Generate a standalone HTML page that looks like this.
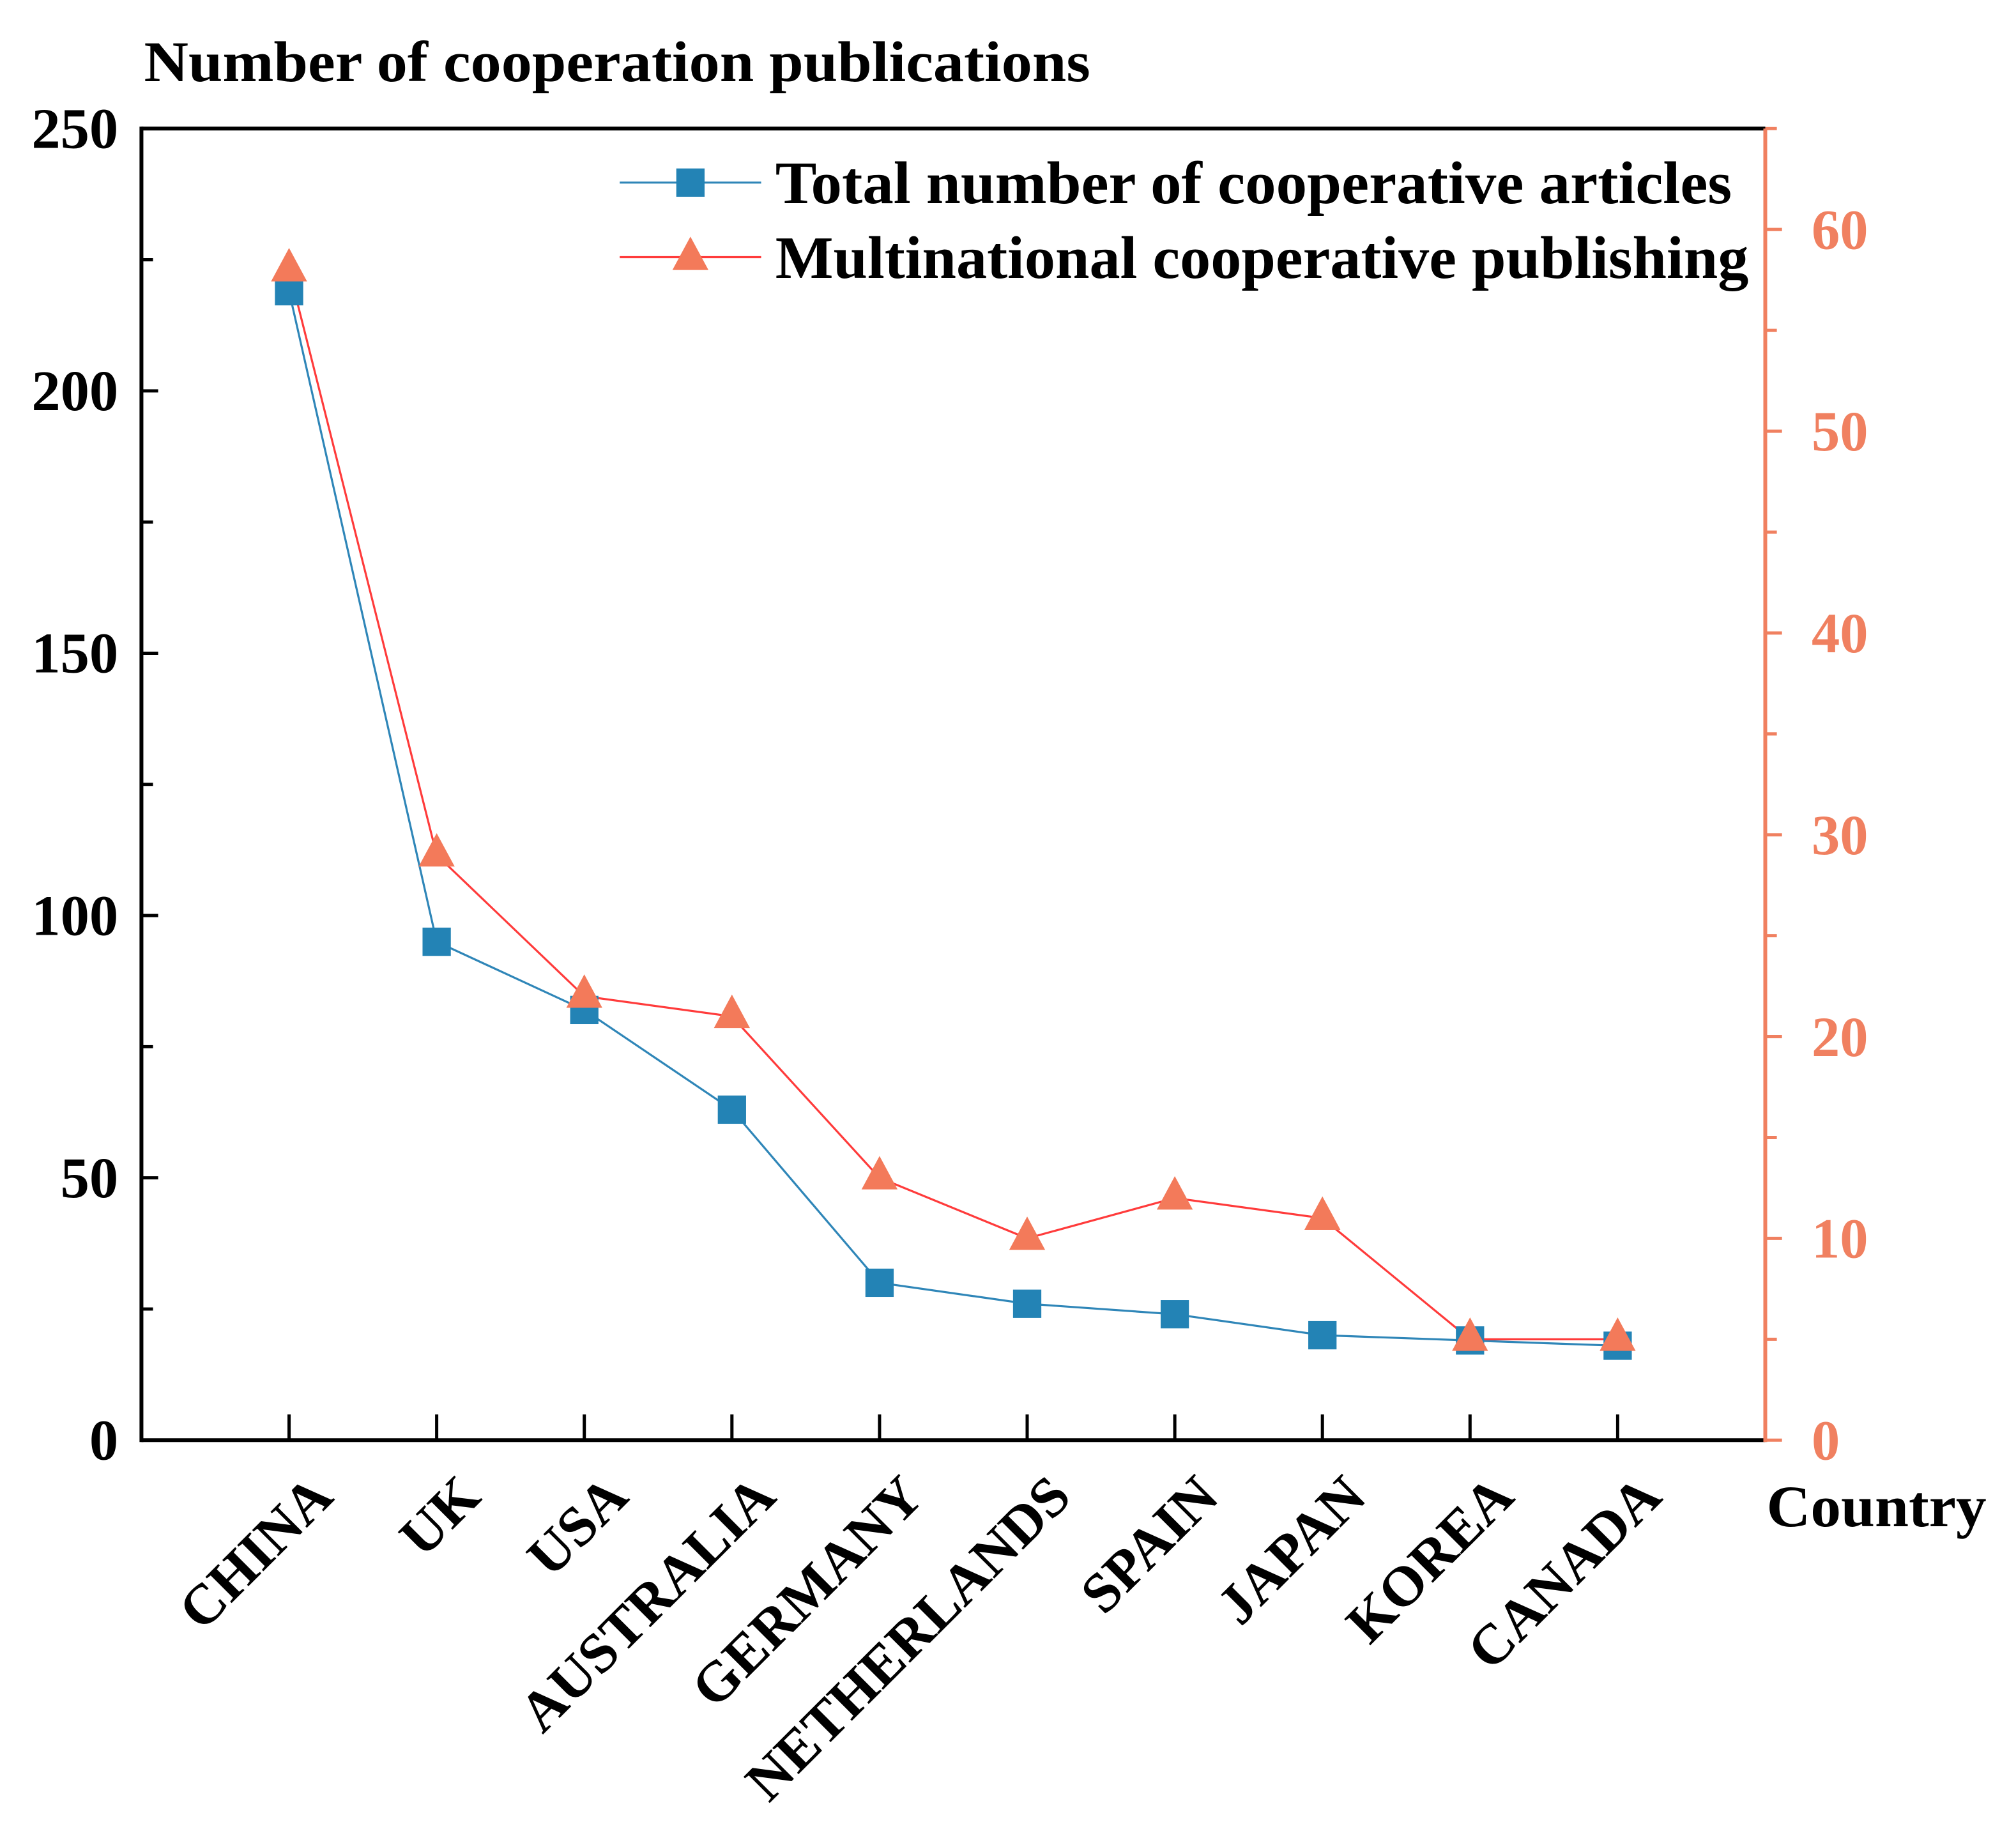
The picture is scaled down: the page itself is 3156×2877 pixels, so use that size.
<!DOCTYPE html>
<html><head><meta charset="utf-8"><style>
html,body{margin:0;padding:0;background:#fff;}
svg{display:block;}
text{font-family:"Liberation Serif",serif;font-weight:bold;}
</style></head><body>
<svg id="chart" width="3156" height="2877" viewBox="0 0 1568 1429.4" xmlns="http://www.w3.org/2000/svg">
<text x="112" y="63" font-size="45" textLength="736" lengthAdjust="spacingAndGlyphs">Number of cooperation publications</text>
<text x="1374" y="1187" font-size="46" textLength="171" lengthAdjust="spacingAndGlyphs">Country</text>
<g id="axes"></g>
<g id="series"></g>
<g>
  <line x1="482" y1="142" x2="592" y2="142" stroke="#2f86b8" stroke-width="1.6"/>
  <rect x="526" y="131" width="22" height="22" fill="#2383b5"/>
  <text x="603" y="158" font-size="47" textLength="744" lengthAdjust="spacingAndGlyphs">Total number of cooperative articles</text>
  <line x1="482" y1="200" x2="592" y2="200" stroke="#ff3b3b" stroke-width="1.6"/>
  <polygon points="537,184 523,210 551,210" fill="#f37a5a"/>
  <text x="603" y="216" font-size="47" textLength="757" lengthAdjust="spacingAndGlyphs">Multinational cooperative publishing</text>
</g>
</svg>
<script>
const categories = ["CHINA","UK","USA","AUSTRALIA","GERMANY","NETHERLANDS","SPAIN","JAPAN","KOREA","CANADA"];
const totalArticles = [219,95,82,63,30,26,24,20,19,18];
const multinational = [58,29,22,21,13,10,12,11,5,5];
const leftTicks = [0,50,100,150,200,250];
const rightTicks = [0,10,20,30,40,50,60];

const NS="http://www.w3.org/2000/svg";
const L=110,R=1373,T=100,B=1120;
const xS=i=>L+(i+1)*(R-L)/11;
const yL=v=>B-v/250*(B-T);
const yR=v=>B-v/65*(B-T);
const axes=document.getElementById('axes'), ser=document.getElementById('series');
function mk(tag,attrs,parent){const e=document.createElementNS(NS,tag);for(const k in attrs)e.setAttribute(k,attrs[k]);parent.appendChild(e);return e;}

let e=mk('line',{x1:L,y1:T,x2:R,y2:T,stroke:'#000','stroke-width':3},axes);


e=mk('line',{x1:L,y1:T-1.5,x2:L,y2:B+1.5,stroke:'#000','stroke-width':3},axes);


e=mk('line',{x1:L,y1:B,x2:R,y2:B,stroke:'#000','stroke-width':3},axes);


e=mk('line',{x1:R,y1:T,x2:R,y2:B+1.5,stroke:'#f08060','stroke-width':3},axes);



for(let v=0;v<=250;v+=25){
  const major=v%50===0;
  e=mk('line',{x1:L,y1:yL(v),x2:L+(major?13:9),y2:yL(v),stroke:'#000','stroke-width':2.5},axes);
  
  
}
leftTicks.forEach(v=>{
  const t=mk('text',{x:L-18,y:yL(v)+15,'text-anchor':'end','font-size':45},axes);
  t.textContent=v;
  
  
});
for(let v=0;v<=65;v+=5){
  const major=v%10===0;
  e=mk('line',{x1:R,y1:yR(v),x2:R+(major?13:9),y2:yR(v),stroke:'#f08060','stroke-width':2.5},axes);
  
  
}
rightTicks.forEach(v=>{
  const t=mk('text',{x:R+36,y:yR(v)+15,'font-size':44,fill:'#f08060'},axes);
  t.textContent=v;
  
  
});
categories.forEach((c,i)=>{
  const x=xS(i);
  e=mk('line',{x1:x,y1:B,x2:x,y2:B-20,stroke:'#000','stroke-width':2.5},axes);
  
  
  const ax=x+36, ay=B+46;
  const t=mk('text',{x:ax,y:ay,'text-anchor':'end','font-size':44,transform:`rotate(-45 ${ax} ${ay})`},axes);
  t.textContent=c;
  
  
});
e=mk('polyline',{points:totalArticles.map((v,i)=>xS(i)+','+yL(v)).join(' '),fill:'none',stroke:'#2f86b8','stroke-width':1.6},ser);


e=mk('polyline',{points:multinational.map((v,i)=>xS(i)+','+yR(v)).join(' '),fill:'none',stroke:'#ff3b3b','stroke-width':1.6},ser);


totalArticles.forEach((v,i)=>{
  const r=mk('rect',{x:xS(i)-11,y:yL(v)-11,width:22,height:22,fill:'#2383b5'},ser);
  
  
});
multinational.forEach((v,i)=>{
  const x=xS(i),y=yR(v);
  const p=mk('polygon',{points:`${x},${y-17} ${x-14},${y+9} ${x+14},${y+9}`,fill:'#f37a5a'},ser);
  
  
});
</script>
</body></html>
